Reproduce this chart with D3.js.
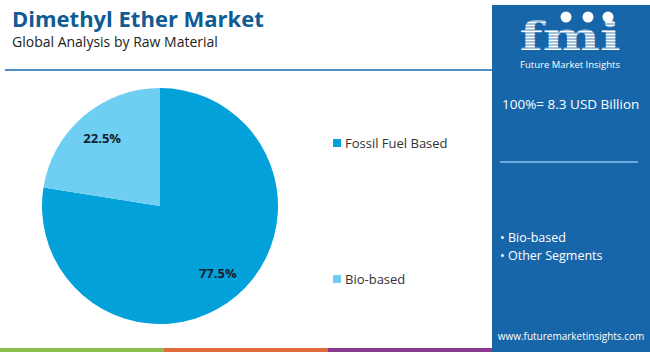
<!DOCTYPE html>
<html>
<head>
<meta charset="utf-8">
<script src="https://cdn.jsdelivr.net/npm/d3@7"></script>
<style>
  body { margin: 0; background: #fff; }
  svg { display: block; font-family: "Open Sans", Roboto, sans-serif; }
</style>
</head>
<body>
<div id="chart-area"></div>
<script>
// data
var categories = ["Fossil Fuel Based", "Bio-based"];
var shares = [77.5, 22.5];
var sliceColors = ["#03a1d9", "#6fcff3"];
var sidebarSegments = ["Bio-based", "Other Segments"];
var marketSize = "100%= 8.3 USD Billion";
var stripeColors = ["#8bbd4d", "#e06a3b", "#8a3a8f"];

var svgWidth = 650, svgHeight = 352;

var svg = d3.select("#chart-area").append("svg")
    .attr("width", svgWidth)
    .attr("height", svgHeight);

// header
svg.append("text")
    .attr("x", 12).attr("y", 27)
    .attr("font-size", "22px").attr("font-weight", "bold")
    .attr("fill", "#0f5b93")
    .text("Dimethyl Ether Market");

svg.append("text")
    .attr("x", 12).attr("y", 47)
    .attr("font-size", "14px")
    .attr("fill", "#222")
    .text("Global Analysis by Raw Material");

svg.append("line")
    .attr("x1", 5).attr("x2", 492)
    .attr("y1", 70).attr("y2", 70)
    .attr("stroke", "#4f8fc8").attr("stroke-width", 2);

// bottom stripes
var stripeScale = d3.scaleBand()
    .domain(d3.range(stripeColors.length))
    .range([0, 492]);

svg.append("g").selectAll("rect")
    .data(stripeColors)
    .enter().append("rect")
    .attr("x", (d, i) => stripeScale(i))
    .attr("y", 348)
    .attr("width", stripeScale.bandwidth())
    .attr("height", 4)
    .attr("fill", d => d);

// pie
var radius = 118;
var pieG = svg.append("g")
    .attr("transform", "translate(160, 206)");

var pie = d3.pie().sort(null).value(d => d);
var arc = d3.arc().innerRadius(0).outerRadius(radius);
var labelArc = d3.arc().innerRadius(89).outerRadius(89);

var arcs = pie(shares);

pieG.selectAll("path")
    .data(arcs)
    .enter().append("path")
    .attr("d", arc)
    .attr("fill", (d, i) => sliceColors[i]);

pieG.selectAll("text")
    .data(arcs)
    .enter().append("text")
    .attr("transform", d => "translate(" + labelArc.centroid(d) + ")")
    .attr("dy", "0.35em")
    .attr("text-anchor", "middle")
    .attr("font-size", "13px").attr("font-weight", "bold")
    .attr("fill", "#14202e")
    .text(d => d.data.toFixed(1) + "%");

// legend
var legendY = d3.scalePoint()
    .domain(categories)
    .range([143, 279]);

var legend = svg.append("g").selectAll("g")
    .data(categories)
    .enter().append("g")
    .attr("transform", d => "translate(333," + legendY(d) + ")");

legend.append("rect")
    .attr("x", 0).attr("y", -4)
    .attr("width", 8).attr("height", 8)
    .attr("fill", (d, i) => sliceColors[i]);

legend.append("text")
    .attr("x", 12).attr("y", 5)
    .attr("font-size", "13px")
    .attr("fill", "#333")
    .text(d => d);

// right panel
var panel = svg.append("g");
panel.append("rect")
    .attr("x", 492).attr("y", 5)
    .attr("width", 158).attr("height", 347)
    .attr("fill", "#1766a9");

// logo
var logo = panel.append("g").attr("transform", "translate(570, 0)");
logo.append("text")
    .attr("x", 0).attr("y", 50)
    .attr("text-anchor", "middle")
    .attr("font-family", "DejaVu Serif, serif")
    .attr("font-size", "40px").attr("font-weight", "bold")
    .attr("fill", "#fff")
    .attr("transform", "scale(1.35,1)")
    .text("fmi");
// stripes across the logo letters
logo.selectAll("line.stripe")
    .data(d3.range(21, 52, 3))
    .enter().append("line")
    .attr("class", "stripe")
    .attr("x1", -58).attr("x2", 58)
    .attr("y1", d => d).attr("y2", d => d)
    .attr("stroke", "#1766a9").attr("stroke-width", 0.8);
logo.selectAll("circle")
    .data([-4, 18, 38])
    .enter().append("circle")
    .attr("cx", d => d).attr("cy", 17)
    .attr("r", 5.5)
    .attr("fill", "#fff");
logo.append("text")
    .attr("x", 0).attr("y", 68)
    .attr("text-anchor", "middle")
    .attr("font-size", "9.5px")
    .attr("fill", "#fff")
    .text("Future Market Insights");

panel.append("text")
    .attr("x", 502).attr("y", 109)
    .attr("font-size", "13.5px")
    .attr("fill", "#fff")
    .text(marketSize);

panel.append("line")
    .attr("x1", 500).attr("x2", 638)
    .attr("y1", 162).attr("y2", 162)
    .attr("stroke", "#8fc0ea").attr("stroke-width", 1.5);

panel.selectAll("text.seg")
    .data(sidebarSegments)
    .enter().append("text")
    .attr("class", "seg")
    .attr("x", 500)
    .attr("y", (d, i) => 242 + i * 17.5)
    .attr("font-size", "12.5px")
    .attr("fill", "#fff")
    .text(d => "\u2022 " + d);

panel.append("text")
    .attr("x", 571).attr("y", 340)
    .attr("text-anchor", "middle")
    .attr("font-size", "10px")
    .attr("fill", "#fff")
    .text("www.futuremarketinsights.com");
</script>
</body>
</html>
